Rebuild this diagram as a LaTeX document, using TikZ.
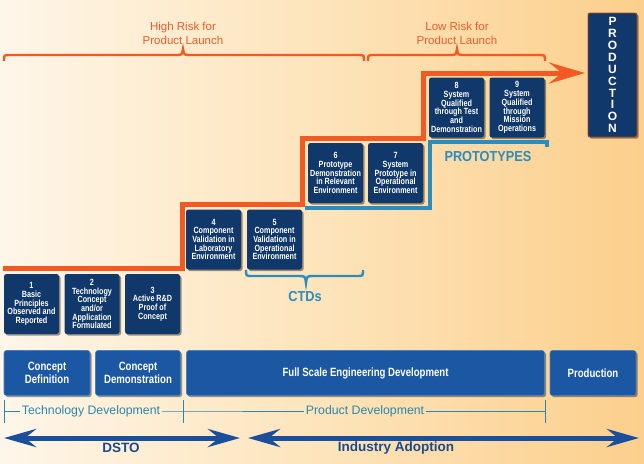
\documentclass[tikz,border=0pt]{standalone}
\usepackage{fontspec}
\setmainfont{Liberation Sans}
\newfontfamily\cnd[FakeStretch=0.88]{Liberation Sans}
\newfontfamily\cndx[FakeStretch=0.8]{Liberation Sans}
\usetikzlibrary{arrows.meta,shadows}
\definecolor{navy}{HTML}{11386B}
\definecolor{rowblue}{HTML}{1B57A3}
\definecolor{rowtop}{HTML}{4A7FC0}
\definecolor{orng}{HTML}{F15A22}
\definecolor{orngtxt}{HTML}{EE5D2C}
\definecolor{tealc}{HTML}{2C8CBE}
\definecolor{tealt}{HTML}{2A86AE}
\definecolor{arrblue}{HTML}{1C4F9B}
\definecolor{labblue}{HTML}{1B4A8E}
\definecolor{bgL}{HTML}{FEF6E9}
\definecolor{bgM}{HTML}{FDE4BA}
\definecolor{bgR}{HTML}{FCCF8C}
\begin{document}
\begin{tikzpicture}[x=1pt,y=-1pt,
  shad/.style={drop shadow={shadow xshift=1.6pt,shadow yshift=-1.6pt,opacity=0.4,fill=black}},
  sbox/.style={shad,fill=navy,rounded corners=2.5pt,minimum width=55pt,minimum height=60pt,
    inner sep=0pt,text=white,align=center,font=\cndx\bfseries\fontsize{9}{8.7}\selectfont},
  rbox/.style={shad,fill=rowblue,draw=rowtop,line width=0.6pt,rounded corners=2.5pt,minimum height=45pt,
    inner sep=0pt,text=white,align=center,font=\cndx\bfseries\fontsize{12}{13}\selectfont},
  risk/.style={text=orngtxt,align=center,font=\fontsize{11.5}{14}\selectfont},
  tline/.style={text=tealt,inner sep=2pt,font=\fontsize{12.3}{14}\selectfont},
  tealline/.style={draw=tealt,line width=0.8pt},
  tealbold/.style={text=tealc,font=\cnd\bfseries\fontsize{14.5}{16}\selectfont},
  bluelab/.style={text=labblue,font=\bfseries\fontsize{13.5}{16}\selectfont},
  obrace/.style={draw=orng,line width=2.4pt},
  btip/.style={line width=5pt,draw=arrblue},
]
\useasboundingbox (0,0) rectangle (644,463);
\shade[left color=bgL,right color=bgR,middle color=bgM] (0,0) rectangle (644,463);

% top braces and labels
\node[risk] (hr) at (183,33) {High Risk for\\Product Launch};
\node[risk] (lr) at (457,33) {Low Risk for\\Product Launch};
\draw[obrace] (4,61) .. controls (4,55) .. (10,55) -- (176,55) .. controls (182,55) .. (183,49)
  .. controls (184,55) .. (190,55) -- (358,55) .. controls (364,55) .. (364,61);
\draw[obrace] (368,61) .. controls (368,55) .. (374,55) -- (450,55) .. controls (456,55) .. (457,49)
  .. controls (458,55) .. (464,55) -- (539,55) .. controls (545,55) .. (545,61);

% production vertical
\node[shad,fill=navy,draw=orng!75!black,line width=0.9pt,rounded corners=2pt,minimum width=49pt,
  minimum height=124pt,inner sep=0pt,text=white,align=center,
  font=\bfseries\fontsize{12}{11.94}\selectfont] (prodv) at (612.5,75)
  {P\\R\\O\\D\\U\\C\\T\\I\\O\\N};

% blue prototype bracket
\draw[tealc,line width=3.5pt,line join=miter] (305,208) -- (430,208) -- (430,142) -- (547,142) -- (547,147);

% orange staircase
\coordinate (s0) at (3,268);
\coordinate (arrend) at (585,73);
\draw[orng,line width=5pt,line join=miter,-{Stealth[length=36pt,width=21pt,inset=13pt]}]
  (s0) -- (182,268) -- (182,204) -- (302,204) -- (302,138) -- (423,138) -- (423,73) -- (arrend);

% TRL boxes
\node[sbox] (b1) at (31.5,304) {1\\Basic\\Principles\\Observed and\\Reported};
\node[sbox] (b2) at (92,304) {2\\Technology\\Concept\\and/or\\Application\\Formulated};
\node[sbox] (b3) at (152.5,304) {3\\Active R\&D\\Proof of\\Concept};
\node[sbox] (b4) at (213.5,239.5) {4\\Component\\Validation in\\Laboratory\\Environment};
\node[sbox] (b5) at (274.5,239.5) {5\\Component\\Validation in\\Operational\\Environment};
\node[sbox] (b6) at (335.5,173) {6\\Prototype\\Demonstration\\in Relevant\\Environment};
\node[sbox] (b7) at (395.5,173) {7\\System\\Prototype in\\Operational\\Environment};
\node[sbox] (b8) at (456.5,107.5) {8\\System\\Qualified\\through Test\\and\\Demonstration};
\node[sbox] (b9) at (517,107.5) {9\\System\\Qualified\\through\\Mission\\Operations};

\node[tealbold] (proto) at (488,157) {PROTOTYPES};

% CTDs brace
\draw[tealc,line width=2.4pt] (246,270) .. controls (246,276) .. (252,276) -- (299,276) .. controls (305,276) .. (306,283)
  .. controls (307,276) .. (313,276) -- (357,276) .. controls (363,276) .. (363,270);
\node[tealbold] (ctd) at (305,297) {CTDs};

% phase row
\node[rbox,minimum width=86pt] (cdef) at (47,373) {Concept\\Definition};
\node[rbox,minimum width=85pt] (cdem) at (138,373) {Concept\\Demonstration};
\node[rbox,minimum width=358pt] (fsed) at (365.5,373) {Full Scale Engineering Development};
\node[rbox,minimum width=86pt] (prod) at (593,373) {Production};

% development timeline
\coordinate (t0) at (4,411);
\coordinate (t1) at (183,411);
\coordinate (t2) at (545,411);
\node[tline] (td) at (91,411) {Technology Development};
\node[tline] (pd) at (365,411) {Product Development};
\draw[tealline] (t0) -- (td.west) (td.east) -- (t1) -- (pd.west) (pd.east) -- (t2);
\draw[tealline] (4,400) -- (4,423) (183,400) -- (183,423) (545,400) -- (545,423);

% bottom arrows
\coordinate (a0) at (4,438);
\coordinate (a1) at (240,438);
\coordinate (a2) at (248,438);
\coordinate (a3) at (639,438);
\draw[btip,{Stealth[length=32pt,width=18pt,inset=11pt]}-{Stealth[length=32pt,width=18pt,inset=11pt]}] (a0) -- (a1);
\draw[btip,{Stealth[length=32pt,width=18pt,inset=11pt]}-{Stealth[length=32pt,width=18pt,inset=11pt]}] (a2) -- (a3);
\node[bluelab] (dsto) at (121,448) {DSTO};
\node[bluelab] (ind) at (396,448) {Industry Adoption};
\end{tikzpicture}
\end{document}
